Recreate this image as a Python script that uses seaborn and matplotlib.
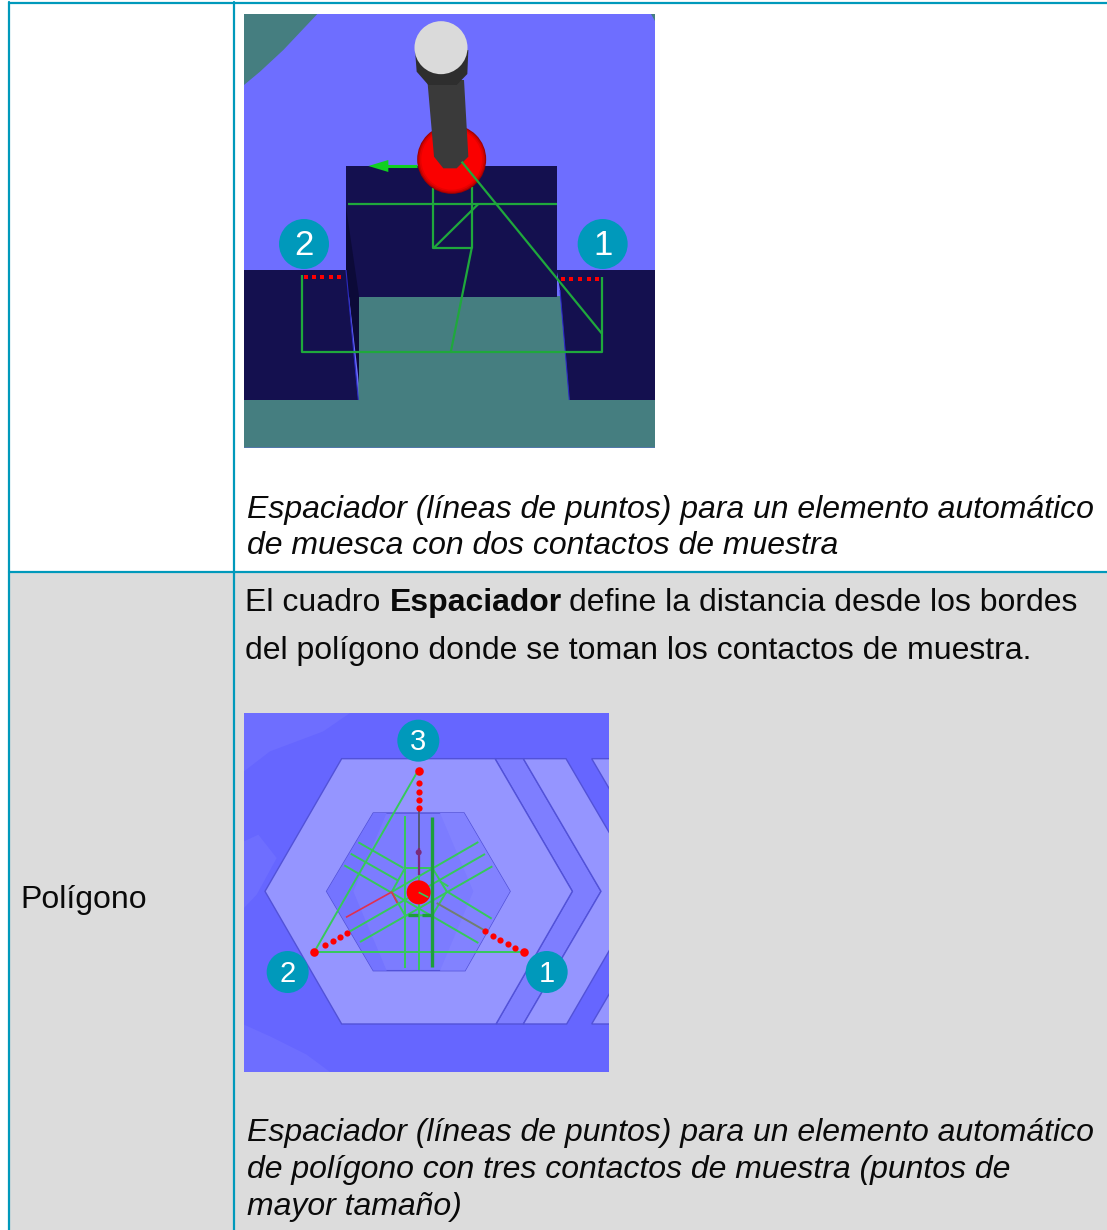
import numpy as np
import pandas as pd
import matplotlib.pyplot as plt
import seaborn as sns
from matplotlib.patches import Circle, Polygon, Rectangle

sns.set_theme(style="white")
plt.rcParams['font.family'] = ['Liberation Sans', 'DejaVu Sans']

# table text
row_label = "Polígono"
caption_notch = ["Espaciador (líneas de puntos) para un elemento automático",
                 "de muesca con dos contactos de muestra"]
caption_poly = ["Espaciador (líneas de puntos) para un elemento automático",
                "de polígono con tres contactos de muestra (puntos de",
                "mayor tamaño)"]
body_line1 = [("El cuadro", "normal", 245), ("Espaciador", "bold", 390),
              ("define la distancia desde los bordes", "normal", 569)]
body_line2 = "del polígono donde se toman los contactos de muestra."

# colours
LINE = '#0099BB'
GREY = '#DCDCDC'
BADGE = '#0099BB'
BLUE1 = '#6E6EFF'
TEAL = '#457E80'
NAVY = '#14104F'
GREEN1 = '#1FA83C'
GREEN2 = '#35C95A'
RED = '#FF0000'

# notch picture, in crop coordinates (3x, crop origin 240,0)
notch_left = [(12, 810), (318, 810), (355, 1200), (12, 1200)]
notch_mid = [(318, 498), (950, 498), (950, 890), (318, 890)]
notch_right = [(950, 810), (1245, 810), (1245, 1200), (988, 1200), (960, 870)]
notch_floor = [(355, 888), (960, 888), (988, 1200), (1245, 1200), (1245, 1343), (12, 1343), (12, 1200), (355, 1200)]
notch_corner = [(12, 42), (232, 42), (130, 150), (60, 215), (12, 255)]
notch_shadow = [(318, 620), (357, 888), (357, 1150), (318, 810)]
notch_lines = [
    [(580, 565), (580, 745), (695, 745), (695, 560)],
    [(325, 612), (950, 612)],
    [(580, 745), (715, 612)],
    [(695, 745), (632, 1058)],
    [(185, 825), (185, 1055), (1085, 1055), (1085, 830)],
    [(665, 485), (1085, 1000)],
]
notch_dots_x = [197, 222, 247, 272, 298, 968, 994, 1020, 1046, 1072]
notch_dots_y = [830, 830, 830, 830, 830, 838, 838, 838, 838, 838]
notch_badges = [("2", 192, 732), ("1", 1088, 732)]

# polygon picture, in crop coordinates (3x, crop origin 240,708)
hex_outer = [(305, 152), (765, 152), (997, 550), (768, 948), (305, 948), (75, 550)]
hex_inner = [(400, 315), (672, 315), (810, 550), (675, 788), (400, 788), (260, 550)]
inner_dark = [(400, 315), (440, 315), (340, 550), (440, 788), (400, 788), (260, 550)]
inner_light = [(600, 315), (672, 315), (810, 550), (675, 788), (600, 788), (700, 550)]
band = [(765, 152), (850, 152), (1083, 550), (850, 948), (768, 948), (997, 550)]
chevron = [(850, 152), (978, 152), (1211, 550), (980, 948), (850, 948), (1083, 550)]
chevron2 = [(1055, 152), (1183, 152), (1416, 550), (1185, 948), (1055, 948), (1288, 550)]
light_patches = [
    [(12, 15), (330, 15), (250, 70), (90, 130), (12, 190)],
    [(12, 950), (90, 985), (200, 1040), (270, 1092), (12, 1092)],
    [(12, 400), (55, 380), (110, 450), (50, 560), (12, 600)],
]
poly_lines = [
    [(530, 195), (225, 728)],
    [(220, 733), (852, 733)],
    [(495, 325), (495, 780)],
    [(537, 320), (537, 785)],
    [(355, 403), (490, 480)],
    [(332, 437), (475, 518)],
    [(313, 472), (715, 705)],
    [(620, 550), (755, 632)],
    [(600, 520), (625, 535)],
    [(360, 702), (757, 475)],
    [(330, 670), (735, 438)],
    [(455, 552), (715, 402)],
    [(495, 480), (577, 480), (620, 550), (577, 622), (495, 622), (455, 552), (495, 480)],
]
thick_lines = [[(577, 328), (577, 778)], [(503, 622), (535, 622)], [(545, 622), (577, 622)]]
poly_dots_x = [537, 537, 537, 537, 537, 255, 278, 300, 322, 735, 758, 780, 803, 825]
poly_dots_y = [226, 252, 276, 300, 190, 712, 700, 688, 675, 670, 683, 695, 708, 720]
poly_big_x = [537, 222, 852]
poly_big_y = [190, 733, 733]
poly_badges = [("3", 535, 98), ("2", 143, 792), ("1", 920, 792)]


def z1(pts):
    return [(240 + x / 3, y / 3) for x, y in pts]


def z2(pts):
    return [(240 + x / 3, 708 + y / 3) for x, y in pts]


def fill(ax, pts, color, edge='none', z=2, lw=1.0, clip=None):
    p = Polygon(pts, closed=True, facecolor=color, edgecolor=edge, linewidth=lw, zorder=z)
    ax.add_patch(p)
    if clip is not None:
        p.set_clip_path(clip)
    return p


def lines(ax, groups, conv, color, lw, z=5):
    for g in groups:
        p = conv(g)
        ax.plot([a[0] for a in p], [a[1] for a in p], color=color, lw=lw, zorder=z, solid_capstyle='butt')


def badges(ax, items, conv, r, size):
    for label, x, y in items:
        cx, cy = conv([(x, y)])[0]
        ax.add_patch(Circle((cx, cy), r, color=BADGE, lw=0, zorder=9))
        ax.text(cx, cy + 1.5, label, color='white', fontsize=size, ha='center', va='center', zorder=10)


def dots(ax, xs, ys, conv, size, z=7, marker='o'):
    p = conv(list(zip(xs, ys)))
    df = pd.DataFrame(p, columns=['x', 'y'])
    sns.scatterplot(data=df, x='x', y='y', ax=ax, color=RED, s=size, marker=marker, linewidth=0, zorder=z, legend=False)


fig = plt.figure(figsize=(11.07, 12.30), dpi=100)
ax = fig.add_axes([0, 0, 1, 1])

# table
ax.add_patch(Rectangle((9, 572), 1098, 658, facecolor=GREY, edgecolor='none', zorder=0))
ax.plot([9, 1107], [3, 3], color=LINE, lw=1.6, zorder=1)
ax.plot([9, 1107], [572, 572], color=LINE, lw=1.6, zorder=1)
ax.plot([9, 9], [2, 1230], color=LINE, lw=1.6, zorder=1)
ax.plot([234, 234], [2, 1230], color=LINE, lw=1.6, zorder=1)

# notch picture
ax.add_patch(Rectangle((244, 14), 411, 434, facecolor=BLUE1, edgecolor='none', zorder=1))
fill(ax, z1(notch_corner), TEAL)
fill(ax, z1([(1232, 42), (1245, 42), (1245, 62)]), TEAL)
fill(ax, z1(notch_floor), TEAL)
fill(ax, z1(notch_left), NAVY)
fill(ax, z1(notch_mid), NAVY)
fill(ax, z1(notch_right), NAVY)
fill(ax, z1(notch_shadow), '#0C0A38', z=3)
lines(ax, [[(318, 810), (355, 1200)], [(960, 870), (988, 1200)]], z1, '#2A2AC0', 0.8, z=3)
lines(ax, notch_lines[:-1], z1, GREEN1, 1.6)
dots(ax, notch_dots_x, notch_dots_y, z1, 10, marker='s')
badges(ax, notch_badges, z1, 25, 25)
# probe
sx, sy = z1([(635, 478)])[0]
for frac, col in zip([1.0, 0.97, 0.93, 0.88], ['#A00000', '#C80000', '#E60000', '#FA0000']):
    ax.add_patch(Circle((sx, sy), 34.5 * frac, color=col, lw=0, zorder=6))
lines(ax, notch_lines[-1:], z1, GREEN1, 1.6, z=8)
fill(ax, z1([(562, 240), (672, 240), (685, 470), (650, 505), (610, 505), (582, 470)]), '#3A3A3A', z=7)
fill(ax, z1([(525, 150), (685, 150), (682, 222), (650, 255), (565, 255), (530, 215)]), '#2E2E2E', z=7)
ax.add_patch(Circle(z1([(603, 143)])[0], 26.5, color='#DADADA', lw=0, zorder=8))
lines(ax, [[(530, 498), (440, 498)]], z1, '#10D020', 2.2, z=5)
fill(ax, z1([(385, 498), (445, 480), (445, 516)]), '#10D020', z=5)

# polygon picture
frame = Rectangle((244, 713), 365, 359, facecolor='#6666FF', edgecolor='none', zorder=1)
ax.add_patch(frame)
for p in light_patches:
    fill(ax, z2(p), '#6E6EFF', z=1.5)
fill(ax, z2(band), '#7E7EFF', '#5252D8', clip=frame)
fill(ax, z2(chevron), '#9595FF', '#5252D8', clip=frame)
fill(ax, z2(chevron2), '#9595FF', '#5252D8', clip=frame)
fill(ax, z2(hex_outer), '#9595FF', '#5252D8', z=3)
fill(ax, z2(hex_inner), '#7C7CFF', '#5252D8', z=3)
fill(ax, z2(inner_dark), '#7474FF', z=3.1)
fill(ax, z2(inner_light), '#8282FF', z=3.1)
lines(ax, poly_lines, z2, GREEN2, 1.4)
lines(ax, thick_lines, z2, '#1E9E3C', 2.4)
lines(ax, [[(537, 310), (537, 420)]], z2, '#55557A', 1.4, z=6)
lines(ax, [[(537, 420), (537, 500)]], z2, '#7A2A7A', 1.6, z=6)
lines(ax, [[(318, 628), (455, 552), (472, 585)]], z2, '#E03050', 1.2, z=6)
lines(ax, [[(590, 585), (730, 665)]], z2, '#708070', 1.4, z=6)
ax.add_patch(Circle(z2([(536, 553)])[0], 12, color=RED, lw=0, zorder=7))
lines(ax, [[(536, 553), (565, 568)]], z2, GREEN2, 1.2, z=8)
ax.add_patch(Circle(z2([(536, 433)])[0], 3, color='#7A2A7A', lw=0, zorder=7))
dots(ax, poly_dots_x, poly_dots_y, z2, 20)
dots(ax, poly_big_x, poly_big_y, z2, 38)
badges(ax, poly_badges, z2, 21, 21)

# text
FS = 23.0
for y, t in zip([518, 554], caption_notch):
    ax.text(247, y, t, fontsize=FS, style='italic', color='#0A0A0A', va='baseline', zorder=10)
for y, t in zip([1141, 1178, 1215], caption_poly):
    ax.text(247, y, t, fontsize=FS, style='italic', color='#0A0A0A', va='baseline', zorder=10)
for t, w, x in body_line1:
    ax.text(x, 611, t, fontsize=FS, fontweight=w, color='#0A0A0A', va='baseline', zorder=10)
ax.text(245, 659, body_line2, fontsize=FS, color='#0A0A0A', va='baseline', zorder=10)
ax.text(20, 908, row_label, fontsize=FS, color='#0A0A0A', va='baseline', zorder=10)

ax.set_xlim(0, 1107)
ax.set_ylim(1230, 0)
ax.axis('off')
fig.savefig('out.png', dpi=100)
